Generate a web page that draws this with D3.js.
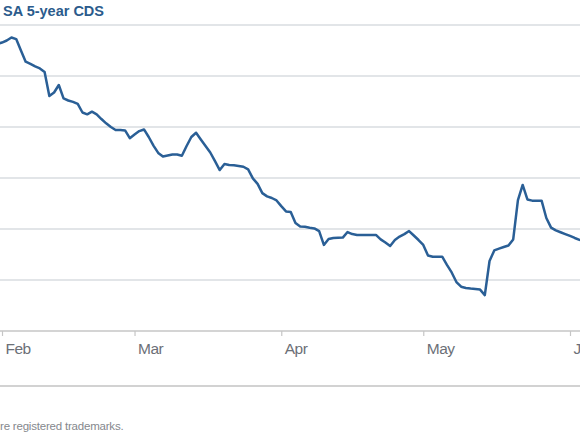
<!DOCTYPE html>
<html>
<head>
<meta charset="utf-8">
<script src="https://cdn.jsdelivr.net/npm/d3@7"></script>
<style>
  html, body { margin: 0; padding: 0; background: #fff; }
  svg { display: block; font-family: "Liberation Sans", Arial, sans-serif; }
</style>
</head>
<body>
<div id="main"></div>
<script>
const title = "SA 5-year CDS"
const footnote = "re registered trademarks."

// daily closes, Jan 29 - Jun 4 (MM-DD)
const dates = [
    "01-29", "02-01", "02-02", "02-03", "02-04", "02-05", "02-06", "02-07", "02-08", "02-09",
    "02-10", "02-11", "02-12", "02-13", "02-14", "02-15", "02-16", "02-17", "02-18", "02-19",
    "02-20", "02-21", "02-22", "02-23", "02-24", "02-25", "02-26", "02-27", "02-28", "03-01",
    "03-02", "03-03", "03-04", "03-05", "03-06", "03-07", "03-08", "03-09", "03-10", "03-11",
    "03-12", "03-13", "03-14", "03-15", "03-16", "03-17", "03-18", "03-19", "03-20", "03-21",
    "03-22", "03-23", "03-24", "03-25", "03-26", "03-27", "03-28", "03-29", "03-30", "03-31",
    "04-01", "04-02", "04-03", "04-04", "04-05", "04-06", "04-07", "04-08", "04-09", "04-10",
    "04-11", "04-12", "04-13", "04-14", "04-15", "04-16", "04-17", "04-18", "04-19", "04-20",
    "04-21", "04-22", "04-23", "04-24", "04-25", "04-26", "04-27", "04-28", "04-29", "04-30",
    "05-01", "05-02", "05-03", "05-04", "05-05", "05-06", "05-07", "05-08", "05-09", "05-10",
    "05-11", "05-12", "05-13", "05-14", "05-15", "05-16", "05-17", "05-18", "05-19", "05-20",
    "05-21", "05-22", "05-23", "05-24", "05-25", "05-26", "05-27", "05-28", "05-29", "05-30",
    "05-31", "06-01", "06-02", "06-03", "06-04"
]

const cds = [
    289.2, 291.4, 292.4, 293.9, 293.1, 287.5, 282.0, 280.9, 279.7, 278.7,
    277.0, 265.2, 266.9, 270.6, 264.0, 263.0, 262.3, 261.3, 257.1, 256.2,
    257.5, 256.2, 253.9, 251.8, 250.0, 248.5, 248.5, 248.3, 244.5, 246.3,
    248.0, 248.8, 245.1, 240.9, 237.3, 235.5, 236.0, 236.5, 236.5, 235.9,
    240.7, 245.1, 247.2, 243.9, 240.7, 237.5, 233.3, 228.9, 231.9, 231.4,
    231.2, 230.9, 230.5, 229.2, 224.8, 222.1, 217.6, 216.0, 215.2, 214.0,
    211.2, 208.6, 208.3, 202.9, 201.2, 201.1, 200.6, 200.3, 199.0, 192.2,
    195.1, 195.6, 195.7, 195.8, 198.5, 197.5, 197.1, 197.1, 197.1, 197.1,
    197.1, 194.9, 193.4, 191.7, 194.6, 196.3, 197.5, 199.0, 196.8, 194.6,
    192.2, 187.0, 186.4, 186.4, 186.4, 182.4, 178.7, 174.0, 171.7, 171.1,
    170.8, 170.6, 170.3, 167.6, 184.3, 189.5, 190.4, 191.2, 191.9, 194.9,
    214.2, 221.6, 214.5, 213.9, 213.9, 213.9, 205.4, 200.7, 199.3, 198.4,
    197.5, 196.6, 195.6, 194.7, 193.9
]

const gridValues = [175, 200, 225, 250, 275, 300]
const monthTicks = ["02-01", "03-01", "04-01", "05-01", "06-01"]

const width = 580,
    height = 435

const parse = d3.utcParse("%Y-%m-%d")
const toDate = s => parse("2021-" + s)

let data = dates.map((d, i) => ({ date: toDate(d), value: cds[i] }))

let svg = d3.select("div#main")
    .append("svg")
    .attr("width", width)
    .attr("height", height)

let x = d3.scaleUtc()
    .domain([toDate("02-01"), toDate("06-01")])
    .range([2, 570])

let y = d3.scaleLinear()
    .domain([150, 300])
    .range([331, 25])

// title
svg.append("text")
    .attr("x", 3)
    .attr("y", 16)
    .attr("fill", "#2b5b8c")
    .attr("font-size", 14.5)
    .attr("font-weight", "bold")
    .text(title)

// horizontal gridlines
svg.selectAll(".grid")
    .data(gridValues)
    .join("line")
    .attr("class", "grid")
    .attr("x1", 0)
    .attr("x2", width)
    .attr("y1", d => y(d))
    .attr("y2", d => y(d))
    .attr("stroke", "#d8dce1")
    .attr("stroke-width", 1.6)

// x axis
let xAxis = svg.append("g")
    .attr("transform", "translate(0," + y(150) + ")")
    .call(d3.axisBottom(x)
        .tickValues(monthTicks.map(toDate))
        .tickFormat(d3.utcFormat("%b"))
        .tickSize(5)
        .tickPadding(6))

xAxis.select(".domain").remove()
xAxis.insert("line", ":first-child")
    .attr("x1", 0)
    .attr("x2", width)
    .attr("stroke", "#c6c6c6")
    .attr("stroke-width", 1.6)
xAxis.selectAll(".tick line")
    .attr("stroke", "#c6c6c6")
    .attr("stroke-width", 1.2)
xAxis.selectAll(".tick text")
    .attr("text-anchor", "start")
    .attr("dx", 3)
    .attr("y", 23)
    .attr("dy", 0)
    .attr("fill", "#6c7077")
    .attr("font-size", 15.5)
    .attr("font-family", "\"Liberation Sans\", Arial, sans-serif")
    .attr("letter-spacing", -0.5)

// the series
let line = d3.line()
    .x(d => x(d.date))
    .y(d => y(d.value))

svg.append("path")
    .datum(data)
    .attr("fill", "none")
    .attr("stroke", "#2a5f96")
    .attr("stroke-width", 2.5)
    .attr("stroke-linejoin", "round")
    .attr("d", line)

// bottom rule + footnote
svg.append("line")
    .attr("x1", 0)
    .attr("x2", width)
    .attr("y1", 386)
    .attr("y2", 386)
    .attr("stroke", "#d2d2d2")
    .attr("stroke-width", 2)

svg.append("text")
    .attr("x", 0)
    .attr("y", 430)
    .attr("fill", "#85888d")
    .attr("font-size", 11.5)
    .attr("letter-spacing", -0.2)
    .text(footnote)
</script>
</body>
</html>
